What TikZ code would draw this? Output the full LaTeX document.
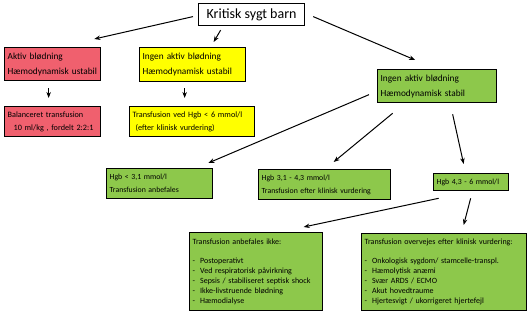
\documentclass[tikz,border=0pt]{standalone}
\usepackage{fontspec}
\setmainfont{Carlito}
\usetikzlibrary{arrows.meta,calc}
\definecolor{redbox}{RGB}{240,96,110}
\definecolor{yelbox}{RGB}{255,255,0}
\definecolor{grnbox}{RGB}{141,200,75}
\newcommand{\itm}[1]{\makebox[7.5pt][l]{-}#1}
\tikzset{
  boxbase/.style={draw=black, line width=1.3pt, anchor=north west, inner xsep=3pt, inner ysep=0pt, align=left},
  redb/.style={boxbase, fill=redbox},
  yelb/.style={boxbase, fill=yelbox},
  grnb/.style={boxbase, fill=grnbox},
  arr/.style={line width=1pt, -{Stealth[length=6pt,width=4.5pt]}},
  fbig/.style={font=\fontsize{9.3}{15}\selectfont},
  fmid/.style={font=\fontsize{8.2}{13}\selectfont},
  fsml/.style={font=\fontsize{7.8}{13}\selectfont},
  flist/.style={font=\fontsize{8}{10}\selectfont},
}
\begin{document}
\begin{tikzpicture}[x=1pt,y=-1pt]
\useasboundingbox (0,0) rectangle (527,313);
\node[draw=black, line width=1.2pt, fill=white, anchor=north west, minimum width=106pt, minimum height=22pt, inner sep=0pt, font=\fontsize{14}{16}\selectfont] (top) at (198,3) {Kritisk sygt barn};

\node[redb, fbig, text width=90pt, minimum height=33pt] (red1) at (4,47) {Aktiv blødning\\Hæmodynamisk ustabil};
\node[redb, fmid, text width=90pt, minimum height=30pt] (red2) at (4,106) {Balanceret transfusion\\\hspace*{6pt}10 ml/kg , fordelt 2:2:1};

\node[yelb, fbig, text width=100pt, minimum height=34pt] (yel1) at (139,47) {Ingen aktiv blødning\\Hæmodynamisk ustabil};
\node[yelb, fmid, text width=119pt, minimum height=30pt] (yel2) at (129,106) {Transfusion ved Hgb < 6 mmol/l\\\hspace*{3pt}(efter klinisk vurdering)};

\node[grnb, fbig, text width=113pt, minimum height=33pt] (grn1) at (377,69) {Ingen aktiv blødning\\Hæmodynamisk stabil};

\node[grnb, fsml, text width=100pt, minimum height=30pt] (hgbA) at (106,168) {Hgb < 3,1 mmol/l\\Transfusion anbefales};
\node[grnb, fsml, text width=126pt, minimum height=30pt] (hgbB) at (258,169) {Hgb 3,1 - 4,3 mmol/l\\Transfusion efter klinisk vurdering};
\node[grnb, fsml, text width=69pt, minimum height=17pt] (hgbC) at (433,173) {Hgb 4,3 - 6 mmol/l};

\node[grnb, flist, text width=127pt, minimum height=78pt] (boxD) at (189,232) {Transfusion anbefales ikke:\\[9pt]\itm{Postoperativt}\\\itm{Ved respiratorisk påvirkning}\\\itm{Sepsis / stabiliseret septisk shock}\\\itm{Ikke-livstruende blødning}\\\itm{Hæmodialyse}};
\node[grnb, flist, text width=159pt, minimum height=77pt] (boxE) at (361,233) {Transfusion overvejes efter klinisk vurdering:\\[9pt]\itm{Onkologisk sygdom/ stamcelle-transpl.}\\\itm{Hæmolytisk anæmi}\\\itm{Svær ARDS / ECMO}\\\itm{Akut hovedtraume}\\\itm{Hjertesvigt / ukorrigeret hjertefejl}};

\draw[arr] ($(top.west)+(-5,2)$) -- ($(red1.north east)+(-7,-8)$);
\draw[arr] ($(top.south)+(-31,4)$) -- ($(yel1.north)+(21,-5)$);
\draw[arr] ($(top.east)+(8,2)$) -- ($(grn1.north)+(-22,-9)$);
\draw[arr] ($(red1.south)+(-4,7)$) -- ($(red2.north)+(-4,-8)$);
\draw[arr] ($(yel1.south)+(-8,6)$) -- ($(yel2.north)+(-7.5,-8)$);
\draw[arr] ($(grn1.west)+(-8,8.5)$) -- ($(hgbA.north east)+(-5,-5)$);
\draw[arr] ($(grn1.south)+(-44.5,10)$) -- ($(hgbB.north)+(9,-7)$);
\draw[arr] ($(grn1.south)+(15.5,11)$) -- ($(hgbC.north)+(-7.5,-9)$);
\draw[arr] ($(hgbC.south)+(-32.5,7)$) -- ($(boxD.north)+(47.5,-5)$);
\draw[arr] ($(hgbC.south)+(-0.5,7)$) -- ($(boxE.north)+(19.5,-8)$);
\end{tikzpicture}
\end{document}
